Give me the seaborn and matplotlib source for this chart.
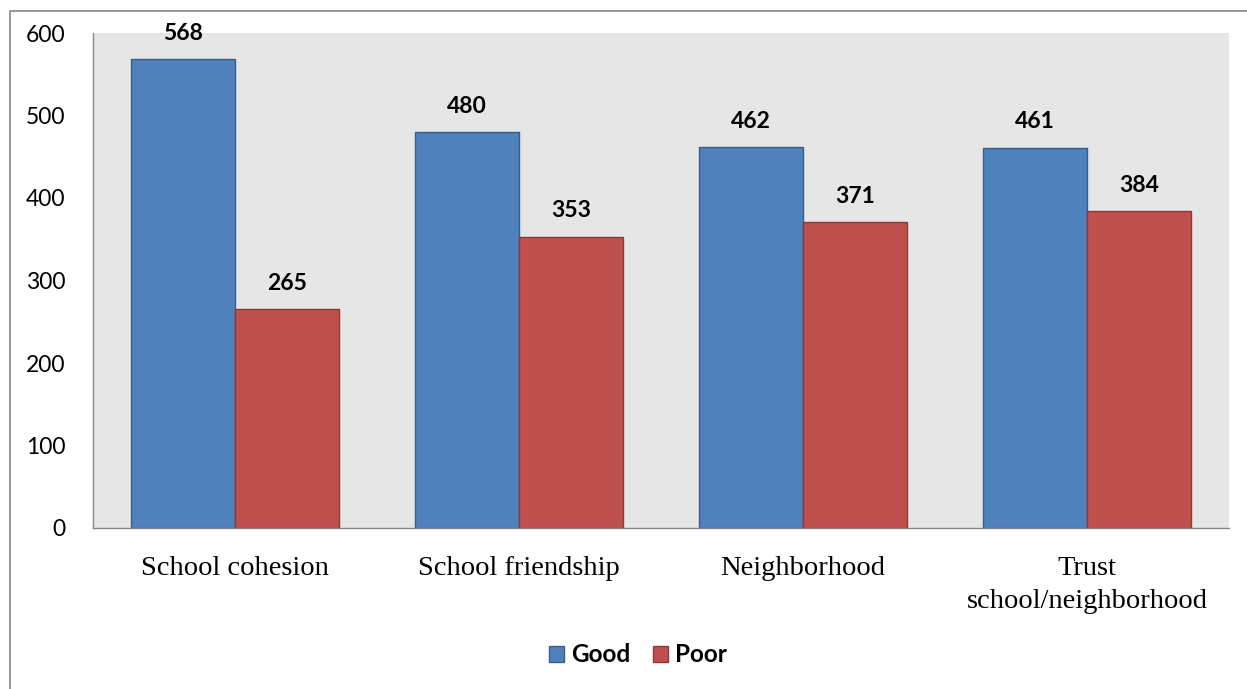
import matplotlib
matplotlib.use("Agg")
import matplotlib.pyplot as plt
import seaborn as sns
import pandas as pd
from matplotlib.patches import Rectangle, Patch

categories = ["School cohesion", "School friendship", "Neighborhood", "Trust\nschool/neighborhood"]
series = ["Good", "Poor"]
good_values = [568, 480, 462, 461]
poor_values = [265, 353, 371, 384]
y_ticks = [0, 100, 200, 300, 400, 500, 600]

colors = {"Good": "#4F81BD", "Poor": "#C0504D"}
edges = {"Good": "#385D8A", "Poor": "#8C3836"}

df = pd.DataFrame({
    "category": categories * 2,
    "series": ["Good"] * 4 + ["Poor"] * 4,
    "value": good_values + poor_values,
})

sns.set_style("white")
plt.rcParams['font.family'] = ['Lato', 'DejaVu Sans']
plt.rcParams['text.color'] = 'black'
plt.rcParams['xtick.color'] = 'black'
plt.rcParams['ytick.color'] = 'black'

fig = plt.figure(figsize=(12.47, 6.89), dpi=100)
ax = fig.add_axes([93/1247, 1-528/689, (1229-93)/1247, (528-33)/689])
sns.barplot(data=df, x="category", y="value", hue="series", order=categories,
            hue_order=series, palette=colors, width=0.73, ax=ax, legend=False,
            saturation=1)

for cont, s in zip(ax.containers, series):
    for p in cont:
        p.set_edgecolor(edges[s])
        p.set_linewidth(1.0)
    ax.bar_label(cont, fmt="%d", padding=11, fontsize=16.5, fontweight="bold",
                 color="black", family=['Lato', 'DejaVu Sans'])

ax.set_facecolor("#E6E6E6")
ax.set_ylim(0, 600)
ax.set_yticks(y_ticks)
ax.set_xlim(-0.5, 3.5)
ax.tick_params(axis="y", labelsize=16.5, length=0, pad=20, labelcolor="black")
ax.tick_params(axis="x", length=0, pad=20, labelcolor="black")
for lab in ax.get_xticklabels():
    lab.set_fontfamily("Liberation Serif")
    lab.set_fontsize(20.5)
    lab.set_linespacing(1.45)
ax.set_xlabel("")
ax.set_ylabel("")
for side in ["top", "right"]:
    ax.spines[side].set_visible(False)
for side in ["left", "bottom"]:
    ax.spines[side].set_color("#888888")
    ax.spines[side].set_linewidth(1.0)

handles = [Patch(facecolor=colors[s], edgecolor=edges[s], label=s) for s in series]
fig.legend(handles=handles, loc="center", bbox_to_anchor=(638/1247, 1-655/689), ncol=2,
           frameon=False, prop={"family": "Lato", "weight": "bold", "size": 17.5},
           handlelength=0.62, handleheight=0.62, handletextpad=0.3, columnspacing=0.9)

border = Rectangle((10/1247, -0.1), 1.2, 1-11/689+0.1, transform=fig.transFigure,
                   fill=False, edgecolor="#888888", linewidth=1.2)
fig.patches.append(border)

fig.savefig("out.png", dpi=100)
